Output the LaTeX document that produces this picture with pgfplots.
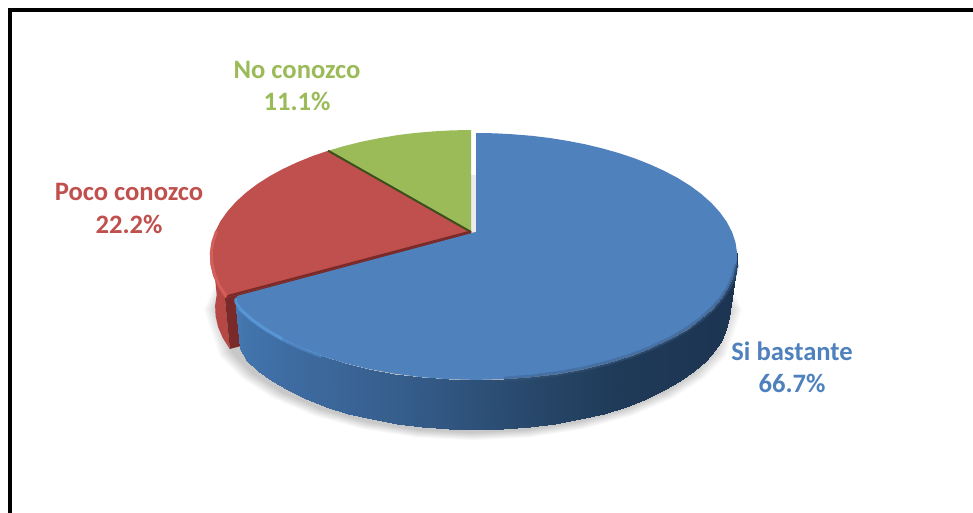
\documentclass[border=0pt]{standalone}
\usepackage{fontspec}
\setmainfont{Carlito}
\usepackage{pgfplots}
\usepackage{pgfplotstable}
\pgfplotsset{compat=1.18}

\definecolor{siTop}{HTML}{4F81BD}
\definecolor{siGlow}{HTML}{5B9BDB}
\definecolor{pocoTop}{HTML}{C0504D}
\definecolor{pocoGlow}{HTML}{D8625E}
\definecolor{noTop}{HTML}{9BBB59}
\definecolor{pocoSide}{HTML}{B54845}
\definecolor{pocoCut}{HTML}{7A2A28}
\definecolor{noCut}{HTML}{3D4F1C}

% Slice shares: 66.7 % = 240 deg, 22.2 % = 80 deg, 11.1 % = 40 deg.
% Rim offsets (dx, dy) from the slice apex, every 5 deg clockwise from the top.
\pgfplotstableread{
dx dy
0 0
0 -99.0
18.6 -98.7
37.2 -97.7
55.6 -96.2
73.8 -94.0
91.7 -91.1
109.3 -87.7
126.3 -83.6
142.9 -78.9
158.8 -73.6
174.0 -67.6
188.3 -61.1
201.7 -54.0
214.1 -46.3
225.3 -38.0
235.2 -29.2
243.7 -19.9
250.7 -10.2
256.0 0
259.5 10.5
261.1 21.3
260.6 32.4
258.0 43.5
253.2 54.7
246.1 65.8
236.6 76.7
224.7 87.4
210.5 97.5
194.0 107.1
175.3 116.0
154.5 124.0
131.8 131.0
107.6 136.9
81.9 141.6
55.2 145.1
27.8 147.2
0 147.9
-27.8 147.2
-55.2 145.1
-81.9 141.6
-107.6 136.9
-131.8 131.0
-154.5 124.0
-175.3 116.0
-194.0 107.1
-210.5 97.5
-224.7 87.4
-236.6 76.7
-240.5 70.5
-241.0 66.5
-238.0 63.7
}\sitop

\pgfplotstableread{
dx dy
0 0
-246.1 65.8
-253.2 54.7
-258.0 43.5
-260.6 32.4
-261.1 21.3
-259.5 10.5
-256.0 0
-250.7 -10.2
-243.7 -19.9
-235.2 -29.2
-225.3 -38.0
-214.1 -46.3
-201.7 -54.0
-188.3 -61.1
-174.0 -67.6
-158.8 -73.6
-142.9 -78.9
}\pocotop

\pgfplotstableread{
dx dy
0 0
-142.9 -78.9
-126.3 -83.6
-109.3 -87.7
-91.7 -91.1
-73.8 -94.0
-55.6 -96.2
-37.2 -97.7
-18.6 -98.7
0 -99.0
}\notop

% Wall mesh of the large slice: first row upper rim (lev 0), second row lower rim (lev 1)
\pgfplotstableread{
dx dy lev
261.1 21.3 0
260.6 32.4 0
258.0 43.5 0
253.2 54.7 0
246.1 65.8 0
236.6 76.7 0
224.7 87.4 0
210.5 97.5 0
194.0 107.1 0
175.3 116.0 0
154.5 124.0 0
131.8 131.0 0
107.6 136.9 0
81.9 141.6 0
55.2 145.1 0
27.8 147.2 0
0 147.9 0
-27.8 147.2 0
-55.2 145.1 0
-81.9 141.6 0
-107.6 136.9 0
-131.8 131.0 0
-154.5 124.0 0
-175.3 116.0 0
-194.0 107.1 0
-210.5 97.5 0
-224.7 87.4 0
-236.6 76.7 0
-241.0 66.5 0
261.1 21.3 1
260.6 32.4 1
258.0 43.5 1
253.2 54.7 1
246.1 65.8 1
236.6 76.7 1
224.7 87.4 1
210.5 97.5 1
194.0 107.1 1
175.3 116.0 1
154.5 124.0 1
131.8 131.0 1
107.6 136.9 1
81.9 141.6 1
55.2 145.1 1
27.8 147.2 1
0 147.9 1
-27.8 147.2 1
-55.2 145.1 1
-81.9 141.6 1
-107.6 136.9 1
-131.8 131.0 1
-154.5 124.0 1
-175.3 116.0 1
-194.0 107.1 1
-210.5 97.5 1
-224.7 87.4 1
-236.6 76.7 1
-243.3 64.0 1
}\siwalltable

\pgfplotstableread{
dx dy lev
-246.1 65.8 0
-246.1 65.8 1
-253.2 54.7 1
-258.0 43.5 1
-260.6 32.4 1
-261.1 21.3 1
-259.5 10.5 1
-259.5 10.5 0
}\pocowall

\pgfplotstableread{
dx dy lev
0 0 0
-246.1 65.8 0
-246.1 65.8 1
0 0 1
}\pococut

% Closed outline for the soft shadow under the pie
\pgfplotstableread{
dx dy
0 -99.0
73.8 -94.0
142.9 -78.9
201.7 -54.0
243.7 -19.9
261.1 21.3
246.1 65.8
224.7 87.4
194.0 107.1
154.5 124.0
107.6 136.9
55.2 145.1
0 147.9
-55.2 145.1
-107.6 136.9
-154.5 124.0
-194.0 107.1
-224.7 87.4
-246.1 65.8
-261.1 21.3
-243.7 -19.9
-201.7 -54.0
-142.9 -78.9
-73.8 -94.0
}\shadowring

% Rim highlight and dark edge segments on the large slice
\pgfplotstableread{
dx dy
-154.5 124.0
-175.3 116.0
-194.0 107.1
-210.5 97.5
-224.7 87.4
-236.6 76.7
}\sirimlight

\pgfplotstableread{
dx dy
-194.0 107.1
-210.5 97.5
-224.7 87.4
-236.6 76.7
-240.5 70.5
-241.0 66.5
}\sirimbright

\pgfplotstableread{
dx dy
260.6 32.4
258.0 43.5
253.2 54.7
246.1 65.8
236.6 76.7
224.7 87.4
210.5 97.5
194.0 107.1
175.3 116.0
154.5 124.0
131.8 131.0
107.6 136.9
81.9 141.6
55.2 145.1
27.8 147.2
}\sirimdark

\pgfplotstableread{
dx dy
-246.1 65.8
-253.2 54.7
-258.0 43.5
-260.6 32.4
-261.1 21.3
-259.5 10.5
-256.0 0
}\pocorim

\begin{document}
\begin{tikzpicture}
\begin{axis}[
  hide axis, scale only axis,
  width=973pt, height=513pt,
  xmin=0, xmax=973, ymin=0, ymax=513,
  y dir=reverse,
  clip=true,
  % wall colours run from light on the left to dark on the right
  colormap={siwall}{
    rgb255(230)=(74,126,184)
    rgb255(245)=(66,116,172)
    rgb255(300)=(61,106,159)
    rgb255(400)=(54,94,140)
    rgb255(480)=(45,80,120)
    rgb255(550)=(38,69,102)
    rgb255(620)=(31,58,88)
    rgb255(737)=(28,52,82)
  },
  point meta min=230, point meta max=737,
]
% page background and the frame along the top and left
\addplot[fill=white, draw=none] coordinates {(0,0) (973,0) (973,513) (0,513)};
\addplot[black, line width=4pt] coordinates {(973,10.3) (9.5,10.3) (9.5,513)};

% soft shadow
\pgfplotsinvokeforeach{0.98,0.985,0.99,0.995,1.0,1.005,1.01,1.015,1.02,1.025,1.03}{
  \addplot[fill=black, fill opacity=0.02, draw=none]
    table[x expr=473+#1*\thisrow{dx}, y expr=288+#1*\thisrow{dy}] {\shadowring};
}

% small slice walls, behind the large slice
\addplot[fill=pocoSide, draw=none]
  table[x expr=471+(1-0.02*\thisrow{lev})*\thisrow{dx},
        y expr=232+52.5*\thisrow{lev}+(1-0.02*\thisrow{lev})*\thisrow{dy}] {\pocowall};
\addplot[fill=pocoCut, draw=none]
  table[x expr=471+(1-0.02*\thisrow{lev})*\thisrow{dx},
        y expr=232+52.5*\thisrow{lev}+(1-0.02*\thisrow{lev})*\thisrow{dy}] {\pococut};

% faint shade in the gap beside the green slice
\addplot[fill=black!8, draw=none] coordinates {(471,175) (476.5,175) (476.5,232) (471,232)};

% top faces of the two small slices
\addplot[fill=noTop, draw=none]
  table[x expr=471+\thisrow{dx}, y expr=232+1.03*\thisrow{dy}] {\notop};
\addplot[fill=pocoTop, draw=none]
  table[x expr=471+\thisrow{dx}, y expr=232+(\thisrow{dy}<0 ? 1.03 : 1)*\thisrow{dy}] {\pocotop};
\addplot[noCut, line width=2pt] coordinates {(328.1,150.7) (471,232)};
\addplot[pocoCut, line width=2.2pt] coordinates {(226,296.5) (471,231.5)};
\addplot[color=pocoGlow, line width=3pt, opacity=0.8]
  table[x expr=472.5+\thisrow{dx}, y expr=231+\thisrow{dy}] {\pocorim};

% large slice: wall, top face, then its rim
\addplot[surf, shader=interp, mesh/rows=2, point meta=x]
  table[x expr=476+(1-0.03*\thisrow{lev})*\thisrow{dx},
        y expr=232+54.5*\thisrow{lev}+(1-0.03*\thisrow{lev})*\thisrow{dy}] {\siwalltable};
\addplot[fill=siTop, draw=none] table[x expr=476+\thisrow{dx}, y expr=232+\thisrow{dy}] {\sitop};
\addplot[color=siTop!70!black, line width=5pt, opacity=0.4]
  table[x expr=476+\thisrow{dx}, y expr=232+\thisrow{dy}] {\sirimdark};
\addplot[color=siTop!60!black, line width=2pt, opacity=0.5]
  table[x expr=476+\thisrow{dx}, y expr=233+\thisrow{dy}] {\sirimdark};
\addplot[color=siGlow, line width=3pt, opacity=0.45]
  table[x expr=476+\thisrow{dx}, y expr=232.5+\thisrow{dy}] {\sirimlight};
\addplot[color=siGlow, line width=3pt, opacity=0.7]
  table[x expr=476.5+\thisrow{dx}, y expr=232+\thisrow{dy}] {\sirimbright};

% labels
\node[align=center, text=noTop, font=\fontsize{26.6}{32.5}\selectfont\bfseries]
  at (axis cs:297,86) {No conozco\\11.1\%};
\node[align=center, text=pocoTop, font=\fontsize{26.6}{32.5}\selectfont\bfseries]
  at (axis cs:129,208.5) {Poco conozco\\22.2\%};
\node[align=center, text=siTop, font=\fontsize{26.6}{32.5}\selectfont\bfseries]
  at (axis cs:792,367.5) {Si bastante\\66.7\%};
\end{axis}
\end{tikzpicture}
\end{document}
